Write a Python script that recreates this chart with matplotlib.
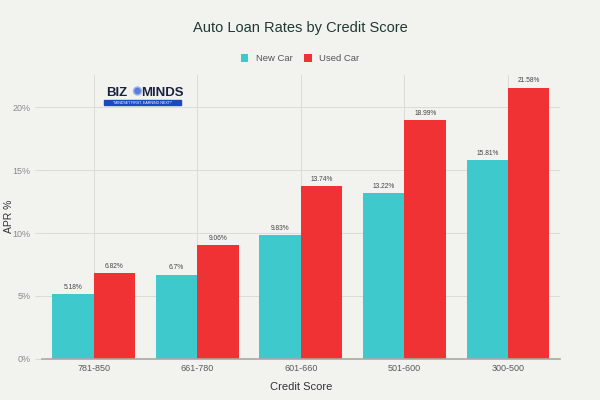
import numpy as np
import matplotlib.pyplot as plt
from matplotlib.patches import Rectangle, Ellipse

plt.rcParams['font.family'] = ['Liberation Sans', 'DejaVu Sans']

# data
scores = ["781-850", "661-780", "601-660", "501-600", "300-500"]
new_car = [5.18, 6.7, 9.83, 13.22, 15.81]
used_car = [6.82, 9.06, 13.74, 18.99, 21.58]
y_ticks = [0, 5, 10, 15, 20]

BG = "#f2f2ee"
TEAL = "#3ec9cc"
RED = "#f03234"
GRID = "#dcdcd6"
TXT = "#5a5a5a"

fig = plt.figure(figsize=(6, 4), dpi=100, facecolor=BG)
ax = fig.add_axes([0.07, 0.103, 0.863, 0.71])
ax.set_facecolor(BG)

x = np.arange(len(scores))
w = 0.4
b1 = ax.bar(x - w / 2, new_car, w, color=TEAL, label="New Car", zorder=3)
b2 = ax.bar(x + w / 2, used_car, w, color=RED, label="Used Car", zorder=3)

for bars, vals in ((b1, new_car), (b2, used_car)):
    for r, v in zip(bars, vals):
        ax.text(r.get_x() + r.get_width() / 2, v + 0.25, "%g%%" % v,
                ha="center", va="bottom", fontsize=4.8, color="#444444", zorder=4)

ax.set_xlim(-0.5, len(scores) - 0.5)
ax.set_ylim(0, 22.6)
ax.set_xticks(x)
ax.set_xticklabels(scores, fontsize=6.5, color=TXT)
ax.set_yticks(y_ticks)
ax.set_yticklabels(["%d%%" % t for t in y_ticks], fontsize=6.5, color="#8a8a8a")
ax.tick_params(axis="x", length=0, pad=4)
ax.tick_params(axis="y", length=5, color=GRID, pad=3)
ax.grid(True, color=GRID, linewidth=0.7, zorder=0)

for s in ("top", "right", "left"):
    ax.spines[s].set_visible(False)
ax.spines["bottom"].set_color("#a8a8a4")
ax.spines["bottom"].set_linewidth(1.2)
ax.spines["bottom"].set_zorder(5)

ax.set_xlabel("Credit Score", fontsize=8, color="#333333", labelpad=6)
ax.set_ylabel("APR %", fontsize=7.5, color="#333333")
ax.yaxis.set_label_coords(-0.054, 0.5)

fig.text(0.5, 0.93, "Auto Loan Rates by Credit Score", ha="center", va="center",
         fontsize=10.5, color="#1f3a33")
fig.legend(loc="center", bbox_to_anchor=(0.5, 0.853), ncol=2, frameon=False,
           fontsize=6.8, handlelength=0.8, handleheight=0.8, columnspacing=1.2,
           handletextpad=0.8, labelcolor="#555555")

# logo (figure pixel positions)
def fx(px):
    return px / 600.0

def fy(py):
    return 1 - py / 400.0

fig.text(fx(117), fy(92.5), "BIZ", fontsize=9.5, fontweight="bold",
         color="#1b2340", ha="center", va="center", zorder=6)
fig.patches.append(Ellipse((fx(137.5), fy(91)), fx(8), 8 / 400.0, transform=fig.transFigure,
                           facecolor="#5a7fd8", edgecolor="#9fb6ee", lw=1, zorder=6))
fig.text(fx(162.5), fy(92.5), "MINDS", fontsize=9.5, fontweight="bold",
         color="#1b2340", ha="center", va="center", zorder=6)
fig.patches.append(Rectangle((fx(104), fy(105)), fx(77), 5 / 400.0,
                             transform=fig.transFigure, color="#1c49c0", zorder=6))
fig.text(fx(142.5), fy(102.5), "\"MINDSET FIRST, EARNING NEXT!\"", fontsize=2.6,
         color="white", ha="center", va="center", zorder=7)

fig.savefig("out.png", dpi=100, facecolor=BG)
